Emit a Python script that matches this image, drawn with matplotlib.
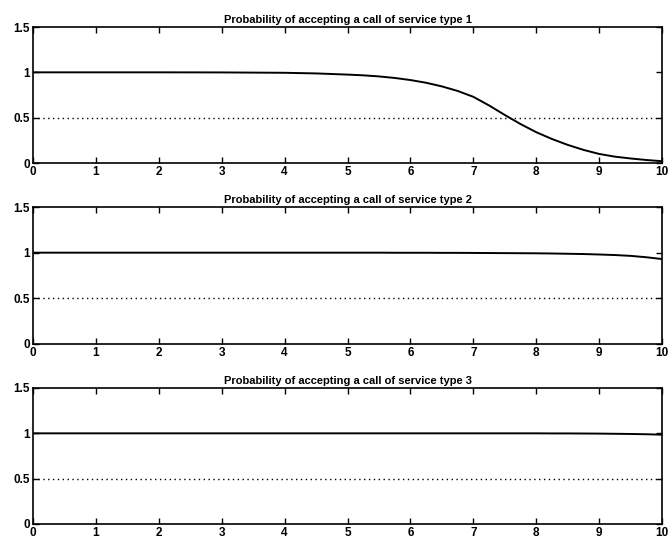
import numpy as np
import matplotlib.pyplot as plt

plt.rcParams['font.family'] = ['Liberation Sans', 'DejaVu Sans']

# Acceptance probability vs load
load = [0, 1, 2, 3, 4, 4.5, 5, 5.25, 5.5, 5.75, 6, 6.25, 6.5, 6.75, 7, 7.25, 7.5,
        7.75, 8, 8.25, 8.5, 8.75, 9, 9.25, 9.5, 9.75, 10]
p_type1 = [1.0, 1.0, 1.0, 0.999, 0.995, 0.988, 0.975, 0.967, 0.955, 0.938, 0.915, 0.885, 0.845,
           0.795, 0.73, 0.635, 0.53, 0.43, 0.34, 0.265, 0.2, 0.145, 0.1, 0.07, 0.05, 0.033, 0.02]
p_type2 = [1.0, 1.0, 1.0, 1.0, 1.0, 1.0, 1.0, 1.0, 1.0, 0.999, 0.999, 0.999, 0.998,
           0.998, 0.997, 0.996, 0.995, 0.994, 0.993, 0.991, 0.988, 0.985, 0.98, 0.974, 0.965, 0.95, 0.93]
p_type3 = [1.0, 1.0, 1.0, 1.0, 1.0, 1.0, 1.0, 1.0, 1.0, 1.0, 1.0, 1.0, 1.0,
           1.0, 1.0, 1.0, 1.0, 1.0, 1.0, 0.999, 0.999, 0.998, 0.997, 0.995, 0.993, 0.99, 0.985]
threshold = 0.5

titles = ['Probability of accepting a call of service type 1',
          'Probability of accepting a call of service type 2',
          'Probability of accepting a call of service type 3']
xticks = list(range(0, 11))
yticks = [0, 0.5, 1, 1.5]
ytick_labels = ['0', '0.5', '1', '1.5']

fig = plt.figure(figsize=(6.7, 5.46), dpi=100)

# axes boxes in pixels, converted to figure fractions
W, H = 670, 546
left, right = 33, 662
tops = [27, 207, 388]
bottoms = [163, 344, 524]

for i, series in enumerate([p_type1, p_type2, p_type3]):
    ax = fig.add_axes([left / W, 1 - bottoms[i] / H, (right - left) / W, (bottoms[i] - tops[i]) / H])
    ax.plot(load, series, color='black', linewidth=1.4)
    ax.axhline(threshold, color='black', linestyle=(0, (1, 2.5)), linewidth=1.0)
    ax.set_xlim(0, 10)
    ax.set_ylim(0, 1.5)
    ax.set_xticks(xticks)
    ax.set_xticklabels([str(t) for t in xticks], fontsize=8.5, fontweight='bold')
    ax.set_yticks(yticks)
    ax.set_yticklabels(ytick_labels, fontsize=8.5, fontweight='bold')
    ax.tick_params(direction='in', top=True, right=True, length=4, width=1, pad=2)
    for s in ax.spines.values():
        s.set_linewidth(1.2)
    ax.set_title(titles[i], fontsize=8, fontweight='bold', pad=3)

fig.savefig('out.png', dpi=100)
